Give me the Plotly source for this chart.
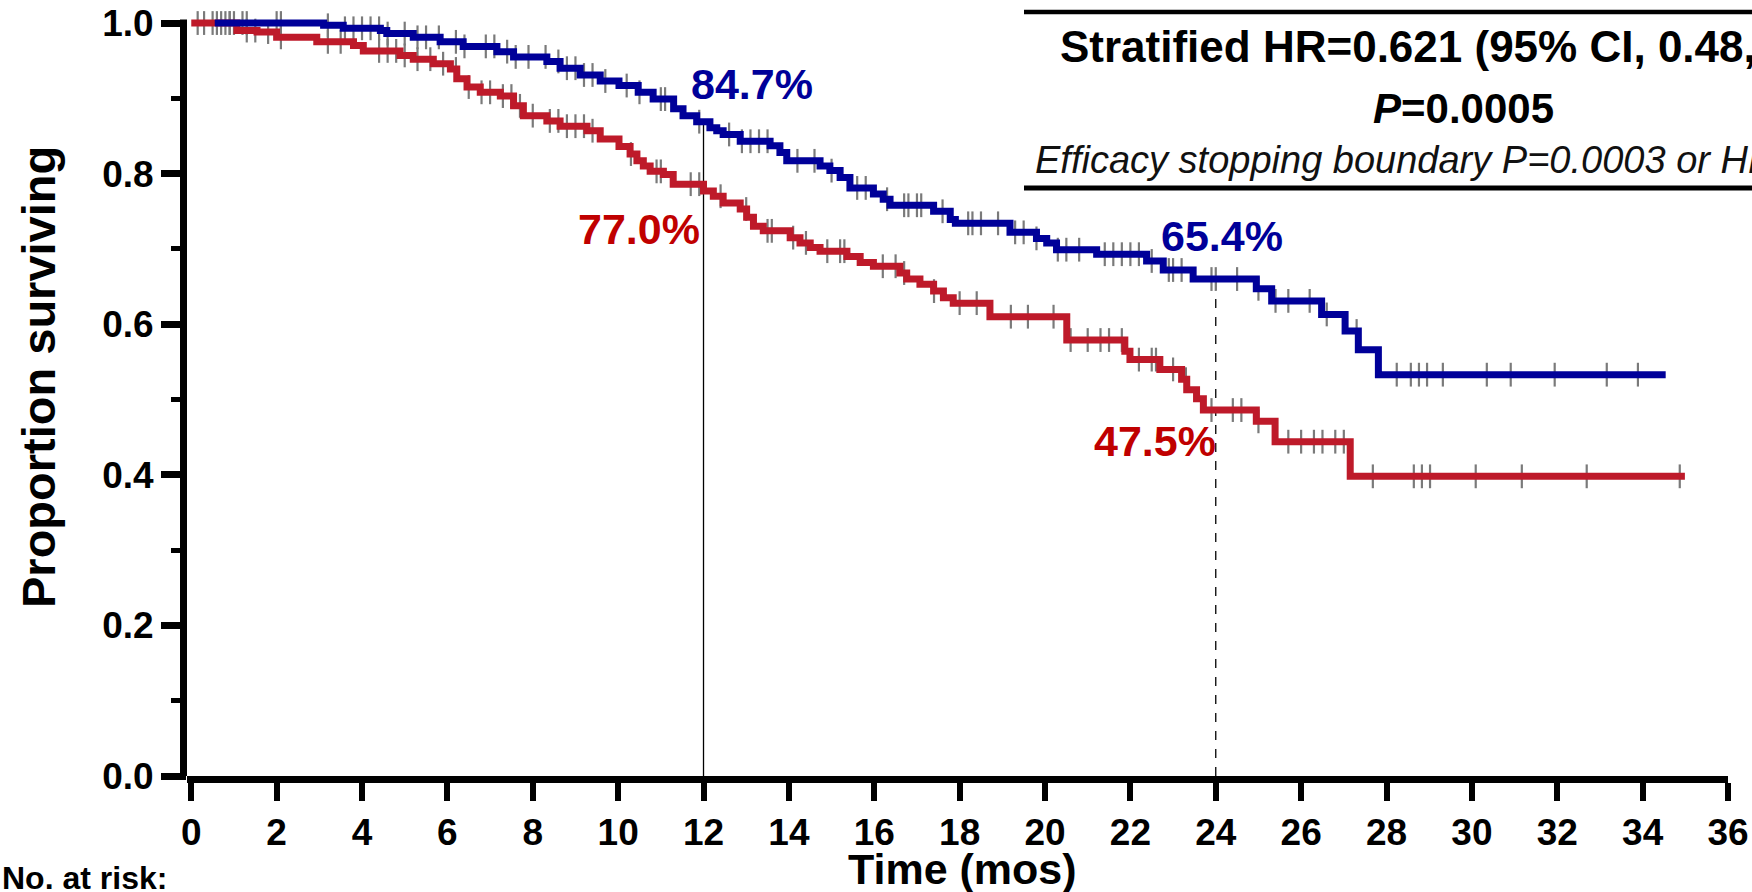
import numpy as np
import plotly.graph_objects as go

# ---------------- data ----------------
blue_t = [0.55, 3.1, 3.56, 4.43, 4.58, 5.2, 5.83, 6.37, 7.16, 7.55, 8.33, 8.64, 9.11, 9.58,
          10.02, 10.47, 10.82, 11.3, 11.52, 11.84, 12.15, 12.31, 12.46, 12.86, 13.56, 13.79,
          13.95, 14.73, 14.96, 15.2, 15.43, 15.98, 16.21, 16.37, 17.39, 17.78, 17.9, 19.18,
          19.8, 20.04, 20.27, 21.21, 22.38, 22.77, 23.47, 24.95, 25.31, 26.48, 27.03, 27.34,
          27.81]
blue_s = [1.0, 0.997, 0.993, 0.99, 0.986, 0.981, 0.975, 0.969, 0.962, 0.955, 0.949, 0.94,
          0.931, 0.923, 0.917, 0.908, 0.899, 0.886, 0.877, 0.869, 0.861, 0.857, 0.852, 0.843,
          0.837, 0.828, 0.817, 0.81, 0.804, 0.795, 0.781, 0.773, 0.766, 0.758, 0.75, 0.739,
          0.734, 0.722, 0.714, 0.708, 0.699, 0.693, 0.684, 0.672, 0.66, 0.647, 0.631, 0.613,
          0.591, 0.566, 0.533]
blue_end = 34.54

red_t = [0.0, 1.07, 1.54, 2.0, 2.94, 3.8, 4.03, 4.89, 5.2, 5.67, 6.07, 6.22, 6.46, 6.77,
         7.24, 7.55, 7.78, 8.33, 8.64, 9.27, 9.58, 10.02, 10.28, 10.44, 10.59, 10.75, 11.06,
         11.29, 12.0, 12.23, 12.46, 12.86, 13.01, 13.17, 13.4, 14.03, 14.26, 14.5, 14.73,
         15.36, 15.67, 15.98, 16.6, 16.76, 17.07, 17.39, 17.62, 17.85, 18.71, 20.51, 21.87,
         21.99, 22.69, 23.2, 23.32, 23.55, 23.71, 24.95, 25.39, 27.15]
red_s = [1.0, 0.99, 0.988, 0.981, 0.975, 0.97, 0.963, 0.957, 0.952, 0.946, 0.939, 0.926,
         0.915, 0.908, 0.903, 0.89, 0.877, 0.87, 0.863, 0.857, 0.846, 0.836, 0.826, 0.817,
         0.81, 0.803, 0.799, 0.786, 0.777, 0.770, 0.761, 0.753, 0.742, 0.73, 0.724, 0.715,
         0.708, 0.702, 0.697, 0.69, 0.682, 0.677, 0.668, 0.66, 0.653, 0.644, 0.635, 0.628,
         0.61, 0.579, 0.564, 0.553, 0.54, 0.527, 0.513, 0.501, 0.486, 0.471, 0.444, 0.398]
red_end = 34.99

blue_cens = [0.6, 0.7, 0.8, 0.9, 1.0, 1.2, 1.3, 2.0, 2.1, 3.2, 3.6, 3.8, 4.0, 4.2, 4.4, 4.6,
             5.0, 5.3, 5.5, 5.8, 6.2, 6.4, 6.9, 7.1, 7.4, 7.6, 7.9, 8.3, 8.6, 8.8, 9.0, 9.2,
             9.4, 9.7, 10.2, 10.5, 11.0, 11.1, 11.9, 12.6, 12.9, 13.1, 13.3, 13.5, 14.2, 14.6,
             15.0, 15.6, 15.8, 16.3, 16.7, 16.8, 17.0, 17.1, 17.6, 18.2, 18.3, 18.5, 18.9,
             19.3, 19.5, 19.8, 20.3, 20.5, 20.8, 21.4, 21.6, 21.8, 22.0, 22.2, 22.5, 22.9,
             23.0, 23.2, 23.9, 24.0, 24.5, 25.0, 25.4, 25.7, 26.2, 26.6, 27.3, 28.24, 28.57,
             28.76, 28.95, 29.32, 30.35, 30.91, 31.94, 33.16, 33.89]
red_cens = [0.15, 0.3, 0.5, 0.9, 1.3, 1.5, 1.8, 2.1, 3.2, 3.5, 4.4, 4.6, 4.8, 5.0, 5.3, 5.6,
            5.9, 6.2, 6.5, 6.8, 7.0, 7.3, 7.5, 7.7, 8.0, 8.4, 8.6, 8.8, 9.0, 9.2, 9.4, 10.3,
            10.9, 11.0, 11.7, 11.9, 12.4, 13.0, 13.5, 13.6, 14.1, 14.4, 14.9, 15.2, 15.3, 16.2,
            16.5, 16.7, 17.4, 18.0, 18.4, 19.2, 19.6, 20.2, 20.6, 21.0, 21.3, 21.5, 21.8, 22.2,
            22.5, 22.6, 23.0, 23.3, 23.9, 24.4, 24.6, 25.0, 25.7, 26.0, 26.3, 26.5, 26.8,
            27.0, 27.68, 28.64, 28.83, 29.02, 30.09, 31.17, 32.69, 34.87]

landmarks = [12, 24]
blue_pct = ["84.7%", "65.4%"]
red_pct = ["77.0%", "47.5%"]
x_ticks = list(range(0, 37, 2))
y_ticks = [0.0, 0.2, 0.4, 0.6, 0.8, 1.0]

# ---------------- styling ----------------
FONT = "Liberation Sans, Arial, Helvetica, sans-serif"
BLUE = "#000099"
RED_LINE = "#BE1A2A"
RED_TXT = "#C00000"
GRAY = "#7a7a7a"

W, H = 1752, 892
PL, PR, PB, PT = 187, 1728, 776, 14
YMAX = 1.012


def px(x):
    return (x - PL) / (PR - PL)


def py(y):
    return (PB - y) / (PB - PT)


def surv(ts, ss, t):
    ts = np.asarray(ts)
    ss = np.asarray(ss)
    idx = np.searchsorted(ts, t, side="right") - 1
    idx = np.clip(idx, 0, len(ss) - 1)
    return ss[idx]


fig = go.Figure()

# censor marks
for cens, ts, ss in [(red_cens, red_t, red_s), (blue_cens, blue_t, blue_s)]:
    fig.add_trace(go.Scatter(
        x=cens, y=surv(ts, ss, cens), mode="markers",
        marker=dict(symbol="line-ns", size=17, line=dict(width=2.2, color=GRAY)),
        hoverinfo="skip", showlegend=False, cliponaxis=False))

# curves
fig.add_trace(go.Scatter(x=red_t + [red_end], y=red_s + [red_s[-1]], mode="lines",
                         line=dict(color=RED_LINE, width=7, shape="hv"), showlegend=False))
fig.add_trace(go.Scatter(x=blue_t + [blue_end], y=blue_s + [blue_s[-1]], mode="lines",
                         line=dict(color=BLUE, width=7, shape="hv"), showlegend=False))

# landmark lines
for i, lm in enumerate(landmarks):
    fig.add_shape(type="line", xref="x", yref="y", x0=lm, x1=lm, y0=0,
                  y1=float(surv(blue_t, blue_s, lm)),
                  line=dict(color="black", width=1.3, dash="solid" if i == 0 else "dash"),
                  layer="below")

# y axis line (drawn as shape so it stops at 1.0)
fig.add_shape(type="line", xref="paper", yref="y", xsizemode="pixel", xanchor=0,
              x0=-3.5, x1=-3.5, y0=0, y1=1.0047, line=dict(color="black", width=7))

# box rules
for yy, wdt in [(12, 4.5), (188, 5)]:
    fig.add_shape(type="line", xref="paper", yref="paper", x0=px(1024), x1=px(1780),
                  y0=py(yy), y1=py(yy), line=dict(color="black", width=wdt))

ann = []
ann.append(dict(text="<b>Stratified HR=0.621 (95% CI, 0.48, 0.80)</b>", x=px(1058), y=py(46),
                xanchor="left", yanchor="middle", font=dict(size=44, color="black")))
ann.append(dict(text="<b><i>P</i>=0.0005</b>", x=px(1463), y=py(108), xanchor="center",
                yanchor="middle", font=dict(size=42, color="black")))
ann.append(dict(text="<i>Efficacy stopping boundary P=0.0003 or HR=0.525</i>", x=px(1033),
                y=py(160), xanchor="left", yanchor="middle", font=dict(size=38, color="#111111")))
# percentage labels
for (txt, xx, yy, col) in [(blue_pct[0], 752, 84, BLUE), (red_pct[0], 639, 229, RED_TXT),
                           (blue_pct[1], 1222, 236, BLUE), (red_pct[1], 1155, 441, RED_TXT)]:
    ann.append(dict(text=f"<b>{txt}</b>", x=px(xx), y=py(yy), xanchor="center",
                    yanchor="middle", font=dict(size=43, color=col)))
ann.append(dict(text="<b>Time (mos)</b>", x=px(962), y=py(869), xanchor="center",
                yanchor="middle", font=dict(size=43, color="black")))
ann.append(dict(text="<b>Proportion surviving</b>", x=px(38), y=py(377), xanchor="center",
                yanchor="middle", textangle=-90, font=dict(size=47, color="black")))
ann.append(dict(text="<b>No. at risk:</b>", x=px(0), y=py(878), xanchor="left",
                yanchor="middle", font=dict(size=32, color="black")))
for a in ann:
    a.update(xref="paper", yref="paper", showarrow=False)

fig.update_layout(
    width=W, height=H, autosize=False,
    margin=dict(l=PL, r=W - PR, t=PT, b=H - PB, pad=0),
    paper_bgcolor="white", plot_bgcolor="white",
    font=dict(family=FONT, color="black"),
    annotations=ann,
    xaxis=dict(range=[-0.1, 36], tickvals=x_ticks, ticktext=[str(v) for v in x_ticks],
               automargin=False,
               showgrid=False, zeroline=False, showline=True, linecolor="black", linewidth=7,
               ticks="outside", ticklen=18, tickwidth=6, tickcolor="black",
               tickfont=dict(size=37, family=FONT, color="black", weight="bold")),
    yaxis=dict(range=[0, YMAX], tickvals=y_ticks, ticktext=[f"{v:.1f}" for v in y_ticks],
               automargin=False,
               showgrid=False, zeroline=False, showline=False,
               ticks="outside", ticklen=25, tickwidth=7, tickcolor="black",
               minor=dict(tickvals=[0.1, 0.3, 0.5, 0.7, 0.9], ticks="outside", ticklen=15,
                          tickwidth=5, tickcolor="black"),
               tickfont=dict(size=37, family=FONT, color="black", weight="bold")),
)

fig.write_html("out.html", config={"displayModeBar": False},
               post_script="document.body.style.margin='0px';"
                           "document.body.style.overflow='hidden';")
